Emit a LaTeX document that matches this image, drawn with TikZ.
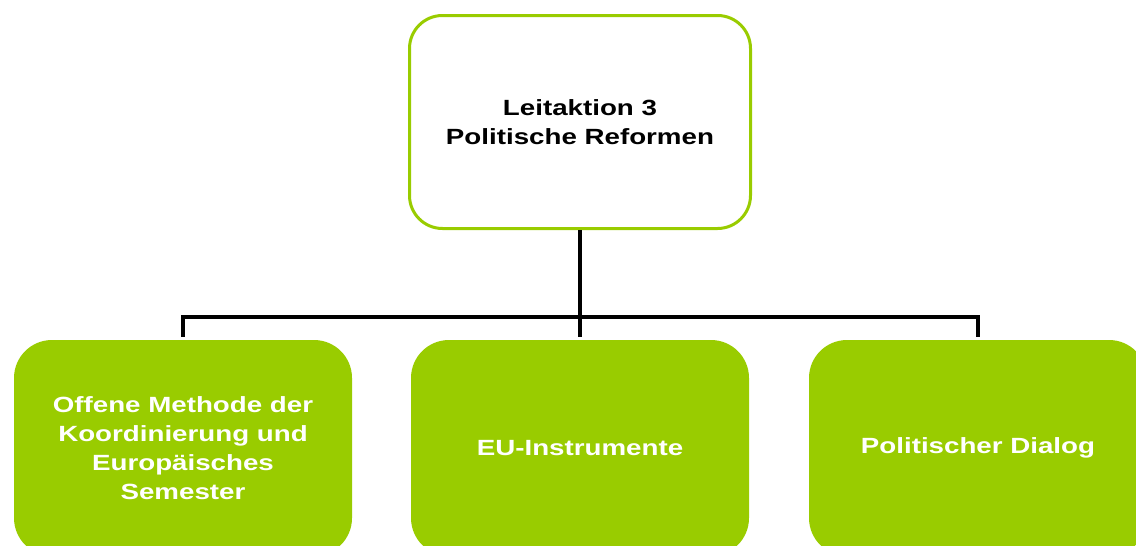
\documentclass[tikz,border=0pt]{standalone}
\usepackage{fontspec}
\setmainfont{Liberation Sans}[FakeStretch=1.26]
\usepackage{xcolor}
\usepackage{tikz}
\usetikzlibrary{positioning}

\definecolor{leafgreen}{HTML}{99CC00}

\tikzset{
  topbox/.style={draw=leafgreen, line width=3pt, fill=white, rounded corners=33pt,
    minimum width=341pt, minimum height=213pt, align=center, text=black,
    font=\fontsize{22}{29}\selectfont\bfseries},
  subbox/.style={fill=leafgreen, rounded corners=38pt,
    minimum width=338pt, minimum height=216pt, align=center, text=white,
    font=\fontsize{22}{29}\selectfont\bfseries},
  conn/.style={draw=black, line width=3.5pt}
}

\begin{document}
\begin{tikzpicture}[x=1pt,y=-1pt]
  \useasboundingbox (0,0) rectangle (1136,546);
  \clip (0,0) rectangle (1136,546);

  \node[topbox] (top) at (580,122) {Leitaktion 3\\Politische Reformen};

  \node[subbox] (omk) at (183,448) {Offene Methode der\\Koordinierung und\\Europäisches\\Semester};
  \node[subbox] (euinst) at (580,448) {EU-Instrumente};
  \node[subbox] (dialog) at (978,448) {Politischer Dialog};

  % Verbindungen
  \coordinate (bar) at (580,317);
  \draw[conn] (top.south) -- ([yshift=3pt]euinst.north);
  \draw[conn] ([yshift=3pt]omk.north) |- (bar) -| ([yshift=3pt]dialog.north);
\end{tikzpicture}
\end{document}
